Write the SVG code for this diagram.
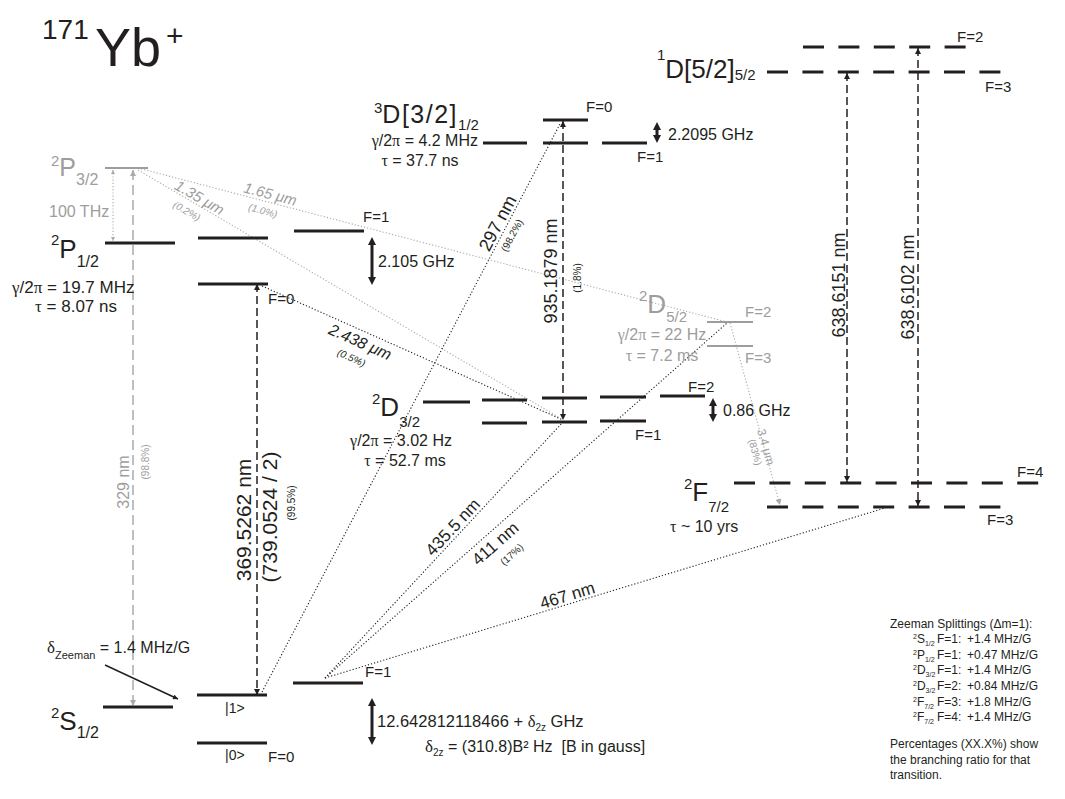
<svg xmlns="http://www.w3.org/2000/svg" width="1065" height="799" viewBox="0 0 1065 799">
<defs>
<style>
text{font-family:"Liberation Sans",Arial,sans-serif;fill:#231f20}
.g{fill:#9d9d9d}
.s{font-family:"Liberation Serif","Times New Roman",serif}
.lv{stroke:#231f20;stroke-width:3;fill:none}
.lvg{stroke:#9d9d9d;stroke-width:2;fill:none}
.da{stroke:#231f20;stroke-width:1.5;stroke-dasharray:8 4;fill:none}
.dt{stroke:#231f20;stroke-width:1.1;stroke-dasharray:1.2 2;fill:none}
.dtg{stroke:#aaaaaa;stroke-width:1.1;stroke-dasharray:1.2 2;fill:none}
.dag{stroke:#aaaaaa;stroke-width:1.5;stroke-dasharray:10 5;fill:none}
.sp{stroke:#231f20;stroke-width:3;fill:none}
.dsh{stroke:#231f20;stroke-width:3;stroke-dasharray:21 14.4;fill:none}
.it{font-style:italic}
</style>
<marker id="ah" viewBox="0 0 10 10" refX="10" refY="5" markerWidth="9" markerHeight="6" markerUnits="userSpaceOnUse" orient="auto-start-reverse"><path d="M0,0L10,5L0,10z" fill="#231f20"/></marker>
<marker id="ahg" viewBox="0 0 10 10" refX="10" refY="5" markerWidth="9" markerHeight="6" markerUnits="userSpaceOnUse" orient="auto-start-reverse"><path d="M0,0L10,5L0,10z" fill="#aaaaaa"/></marker>
<marker id="ahs" viewBox="0 0 10 10" refX="10" refY="5" markerWidth="5" markerHeight="4" markerUnits="userSpaceOnUse" orient="auto-start-reverse"><path d="M0,0L10,5L0,10z" fill="#aaaaaa"/></marker>
<marker id="hb" viewBox="0 0 10 10" refX="2" refY="5" markerWidth="8" markerHeight="10" markerUnits="userSpaceOnUse" orient="auto-start-reverse"><path d="M0,0L10,5L0,10z" fill="#231f20"/></marker>
<marker id="dotm" viewBox="0 0 10 10" refX="10" refY="5" markerWidth="6" markerHeight="5" markerUnits="userSpaceOnUse" orient="auto"><path d="M0,0L10,5L0,10z" fill="#231f20"/></marker>
</defs>
<rect width="1065" height="799" fill="#ffffff"/>

<g id="connectors">
  <line class="dtg" x1="113" y1="170" x2="113" y2="241" marker-start="url(#ahs)" marker-end="url(#ahs)"/>
  <line class="dag" x1="133" y1="170" x2="133" y2="706" marker-start="url(#ahg)" marker-end="url(#ahg)"/>
  <line class="dtg" x1="138" y1="170" x2="560" y2="418"/>
  <line class="dtg" x1="138" y1="168" x2="727" y2="322"/>
  <line class="dtg" x1="730" y1="323" x2="780" y2="505" marker-end="url(#ahg)"/>
  <line class="da" x1="257" y1="284" x2="257" y2="695" marker-start="url(#ah)" marker-end="url(#ah)"/>
  <line class="dt" x1="262" y1="692" x2="560" y2="124"/>
  <line class="da" x1="563" y1="121" x2="563" y2="420" marker-start="url(#ah)" marker-end="url(#ah)"/>
  <line class="dt" x1="262" y1="286" x2="563" y2="420"/>
  <line class="dt" x1="325" y1="678" x2="563" y2="422"/>
  <line class="dt" x1="325" y1="678" x2="727" y2="323"/>
  <line class="dt" x1="325" y1="678" x2="885" y2="508"/>
  <line class="da" x1="847" y1="73" x2="847" y2="482" marker-start="url(#ah)" marker-end="url(#ah)"/>
  <line class="da" x1="918" y1="48" x2="918" y2="506" marker-start="url(#ah)" marker-end="url(#ah)"/>
  <line x1="105" y1="665" x2="178" y2="699" stroke="#231f20" stroke-width="1.5" marker-end="url(#dotm)"/>
  <line class="sp" x1="372" y1="243.4" x2="372" y2="278.6" marker-start="url(#hb)" marker-end="url(#hb)"/>
  <line class="sp" x1="657" y1="128.4" x2="657" y2="136.6" marker-start="url(#hb)" marker-end="url(#hb)"/>
  <line class="sp" x1="713" y1="404.4" x2="713" y2="415.6" marker-start="url(#hb)" marker-end="url(#hb)"/>
  <line class="sp" x1="372" y1="704.4" x2="372" y2="738.6" marker-start="url(#hb)" marker-end="url(#hb)"/>
</g>

<g id="title">
  <text><tspan x="42" y="39" font-size="28">171</tspan><tspan x="95" y="66" font-size="54">Yb</tspan><tspan x="166" y="46" font-size="30">+</tspan></text>
</g>

<g id="P32">
  <line class="lvg" x1="105" y1="168" x2="148" y2="168"/>
  <text class="g" x="51" y="176" font-size="25"><tspan font-size="15" dy="-10">2</tspan><tspan dy="10">P</tspan><tspan font-size="16" dy="9">3/2</tspan></text>
  <text class="g" x="49" y="217" font-size="16">100 THz</text>
</g>

<g id="P12">
  <line class="lv" x1="105" y1="243" x2="175" y2="243"/>
  <line class="lv" x1="198" y1="238" x2="268" y2="238"/>
  <line class="lv" x1="294" y1="231" x2="364" y2="231"/>
  <line class="lv" x1="198" y1="284" x2="268" y2="284"/>
  <text x="51" y="258" font-size="26"><tspan font-size="15" dy="-13">2</tspan><tspan dy="13">P</tspan><tspan font-size="16" dy="9">1/2</tspan></text>
  <text x="12" y="293" font-size="17"><tspan class="s">γ</tspan>/2<tspan class="s">π</tspan> = 19.7 MHz</text>
  <text x="35" y="312" font-size="17"><tspan class="s">τ</tspan> = 8.07 ns</text>
  <text x="363" y="222" font-size="15">F=1</text>
  <text x="378" y="267" font-size="16">2.105 GHz</text>
  <text x="268" y="304" font-size="15">F=0</text>
</g>

<g id="D3-12">
  <line class="lv" x1="483" y1="143" x2="527" y2="143"/>
  <line class="lv" x1="543" y1="143" x2="588" y2="143"/>
  <line class="lv" x1="602" y1="143" x2="647" y2="143"/>
  <line class="lv" x1="543" y1="120" x2="588" y2="120"/>
  <text x="374" y="123" font-size="25"><tspan font-size="15" dy="-10">3</tspan><tspan dy="10" letter-spacing="1.5">D[3/2]</tspan><tspan font-size="15" dy="7">1/2</tspan></text>
  <text x="478" y="146" font-size="16" text-anchor="end"><tspan class="s">γ</tspan>/2<tspan class="s">π</tspan> = 4.2 MHz</text>
  <text x="420" y="166" font-size="16" text-anchor="middle"><tspan class="s">τ</tspan> = 37.7 ns</text>
  <text x="586" y="112" font-size="15">F=0</text>
  <text x="637" y="162" font-size="15">F=1</text>
  <text x="668" y="140" font-size="16">2.2095 GHz</text>
</g>

<g id="D1-52">
  <line class="dsh" x1="803" y1="47" x2="968" y2="47"/>
  <line class="dsh" x1="767" y1="72" x2="1003" y2="72"/>
  <text x="657" y="78" font-size="26"><tspan font-size="15" dy="-18">1</tspan><tspan dy="18">D[5/2]</tspan><tspan font-size="15" dy="2">5/2</tspan></text>
  <text x="957" y="42" font-size="15">F=2</text>
  <text x="985" y="92" font-size="15">F=3</text>
</g>

<g id="D52">
  <line class="lvg" x1="707" y1="322" x2="753" y2="322"/>
  <line class="lvg" x1="707" y1="346" x2="753" y2="346"/>
  <text class="g" x="639" y="313" font-size="26"><tspan font-size="15" dy="-12">2</tspan><tspan dy="12">D</tspan><tspan font-size="15" dy="9">5/2</tspan></text>
  <text class="g" x="662" y="340" font-size="16" text-anchor="middle"><tspan class="s">γ</tspan>/2<tspan class="s">π</tspan> = 22 Hz</text>
  <text class="g" x="662" y="361" font-size="16" text-anchor="middle"><tspan class="s">τ</tspan> = 7.2 ms</text>
  <text class="g" x="745" y="317" font-size="15">F=2</text>
  <text class="g" x="745" y="363" font-size="15">F=3</text>
</g>

<g id="D32">
  <line class="lv" x1="423" y1="402" x2="470" y2="402"/>
  <line class="lv" x1="482" y1="400" x2="527" y2="400"/>
  <line class="lv" x1="542" y1="398" x2="587" y2="398"/>
  <line class="lv" x1="600" y1="397" x2="646" y2="397"/>
  <line class="lv" x1="660" y1="396" x2="705" y2="396"/>
  <line class="lv" x1="482" y1="423" x2="527" y2="423"/>
  <line class="lv" x1="542" y1="422" x2="587" y2="422"/>
  <line class="lv" x1="600" y1="421" x2="646" y2="421"/>
  <text x="372" y="416" font-size="26"><tspan font-size="15" dy="-12">2</tspan><tspan dy="12">D</tspan><tspan font-size="15" dy="11">3/2</tspan></text>
  <text x="401" y="446" font-size="16" text-anchor="middle"><tspan class="s">γ</tspan>/2<tspan class="s">π</tspan> = 3.02 Hz</text>
  <text x="405" y="466" font-size="16" text-anchor="middle"><tspan class="s">τ</tspan> = 52.7 ms</text>
  <text x="688" y="392" font-size="15">F=2</text>
  <text x="635" y="440" font-size="15">F=1</text>
  <text x="723" y="416" font-size="16">0.86 GHz</text>
</g>

<g id="F72">
  <line class="dsh" x1="734" y1="483" x2="1040" y2="483"/>
  <line class="dsh" x1="767" y1="507" x2="1003" y2="507"/>
  <text x="684" y="501" font-size="26"><tspan font-size="15" dy="-12">2</tspan><tspan dy="12">F</tspan><tspan font-size="15" dy="11">7/2</tspan></text>
  <text x="670" y="532" font-size="16"><tspan class="s">τ</tspan> ~ 10 yrs</text>
  <text x="1017" y="477" font-size="15">F=4</text>
  <text x="987" y="525" font-size="15">F=3</text>
</g>

<g id="S12">
  <line class="lv" x1="103" y1="707" x2="173" y2="707"/>
  <line class="lv" x1="197" y1="695" x2="267" y2="695"/>
  <line class="lv" x1="293" y1="683" x2="363" y2="683"/>
  <line class="lv" x1="197" y1="743" x2="267" y2="743"/>
  <text x="51" y="730" font-size="26"><tspan font-size="15" dy="-12">2</tspan><tspan dy="12">S</tspan><tspan font-size="16" dy="8">1/2</tspan></text>
  <text x="47" y="653" font-size="16"><tspan class="s" font-size="17">δ</tspan><tspan font-size="11" dy="6">Zeeman</tspan><tspan dy="-6"> = 1.4 MHz/G</tspan></text>
  <text x="225" y="713" font-size="14">|1&gt;</text>
  <text x="225" y="760" font-size="14">|0&gt;</text>
  <text x="268" y="762" font-size="15">F=0</text>
  <text x="365" y="677" font-size="15">F=1</text>
  <text x="377" y="727" font-size="16.5">12.642812118466 + <tspan class="s">δ</tspan><tspan font-size="10" dy="4">2z</tspan><tspan dy="-4"> GHz</tspan></text>
  <text x="425" y="752" font-size="16"><tspan class="s" font-size="17">δ</tspan><tspan font-size="10" dy="4">2z</tspan><tspan dy="-4"> = (310.8)B² Hz</tspan><tspan dx="9">[B in gauss]</tspan></text>
</g>

<g id="transition-labels">
  <text transform="translate(251,520) rotate(-90)" font-size="21" text-anchor="middle">369.5262 nm</text>
  <text transform="translate(277,517) rotate(-90)" font-size="21" text-anchor="middle">(739.0524 / 2)</text>
  <text transform="translate(295,503) rotate(-90)" font-size="10" text-anchor="middle">(99.5%)</text>
  <text transform="translate(557,271) rotate(-90)" font-size="18" text-anchor="middle">935.1879 nm</text>
  <text transform="translate(581,278) rotate(-90)" font-size="10" text-anchor="middle">(1.8%)</text>
  <text transform="translate(845,285) rotate(-90)" font-size="18" text-anchor="middle">638.6151 nm</text>
  <text transform="translate(914,287) rotate(-90)" font-size="18" text-anchor="middle">638.6102 nm</text>
  <text class="g" transform="translate(129,482) rotate(-90)" font-size="16" text-anchor="middle">329 nm</text>
  <text class="g" transform="translate(149,462) rotate(-90)" font-size="10" text-anchor="middle">(98.8%)</text>
  <text transform="translate(503,226) rotate(-62)" font-size="18" text-anchor="middle">297 nm</text>
  <text transform="translate(515,237) rotate(-62)" font-size="10" text-anchor="middle">(98.2%)</text>
  <text transform="translate(457,531) rotate(-47)" font-size="17" text-anchor="middle">435.5 nm</text>
  <text transform="translate(499,548) rotate(-41.5)" font-size="17" text-anchor="middle">411 nm</text>
  <text transform="translate(514,557) rotate(-41.5)" font-size="10" text-anchor="middle">(17%)</text>
  <text transform="translate(569,601) rotate(-17)" font-size="17" text-anchor="middle">467 nm</text>
  <text class="it" transform="translate(358,347) rotate(24)" font-size="16" text-anchor="middle">2.438 μm</text>
  <text class="it" transform="translate(350,361) rotate(24)" font-size="10" text-anchor="middle">(0.5%)</text>
  <text class="g it" transform="translate(197,202) rotate(30)" font-size="15" text-anchor="middle">1.35 μm</text>
  <text class="g it" transform="translate(185,214) rotate(30)" font-size="10" text-anchor="middle">(0.2%)</text>
  <text class="g it" transform="translate(269,199) rotate(14.7)" font-size="15" text-anchor="middle">1.65 μm</text>
  <text class="g it" transform="translate(262,214) rotate(14.7)" font-size="10" text-anchor="middle">(1.0%)</text>
  <text class="g" transform="translate(762,448) rotate(74.6)" font-size="12" text-anchor="middle">3.4 μm</text>
  <text class="g" transform="translate(752,453) rotate(74.6)" font-size="10" text-anchor="middle">(83%)</text>
</g>

<g id="zeeman-note">
  <text x="890" y="628" font-size="12">Zeeman Splittings (Δm=1):</text>
  <text x="913" y="643" font-size="12"><tspan font-size="7" dy="-4">2</tspan><tspan dy="4">S</tspan><tspan font-size="7" dy="3">1/2</tspan></text>
  <text x="937" y="643" font-size="12">F=1:</text><text x="967" y="643" font-size="12">+1.4 MHz/G</text>
  <text x="913" y="659" font-size="12"><tspan font-size="7" dy="-4">2</tspan><tspan dy="4">P</tspan><tspan font-size="7" dy="3">1/2</tspan></text>
  <text x="937" y="659" font-size="12">F=1:</text><text x="967" y="659" font-size="12">+0.47 MHz/G</text>
  <text x="913" y="674" font-size="12"><tspan font-size="7" dy="-4">2</tspan><tspan dy="4">D</tspan><tspan font-size="7" dy="3">3/2</tspan></text>
  <text x="937" y="674" font-size="12">F=1:</text><text x="967" y="674" font-size="12">+1.4 MHz/G</text>
  <text x="913" y="690" font-size="12"><tspan font-size="7" dy="-4">2</tspan><tspan dy="4">D</tspan><tspan font-size="7" dy="3">3/2</tspan></text>
  <text x="937" y="690" font-size="12">F=2:</text><text x="967" y="690" font-size="12">+0.84 MHz/G</text>
  <text x="913" y="706" font-size="12"><tspan font-size="7" dy="-4">2</tspan><tspan dy="4">F</tspan><tspan font-size="7" dy="3">7/2</tspan></text>
  <text x="937" y="706" font-size="12">F=3:</text><text x="967" y="706" font-size="12">+1.8 MHz/G</text>
  <text x="913" y="721" font-size="12"><tspan font-size="7" dy="-4">2</tspan><tspan dy="4">F</tspan><tspan font-size="7" dy="3">7/2</tspan></text>
  <text x="937" y="721" font-size="12">F=4:</text><text x="967" y="721" font-size="12">+1.4 MHz/G</text>
  <text x="890" y="748" font-size="12">Percentages (XX.X%) show</text>
  <text x="890" y="764" font-size="12">the branching ratio for that</text>
  <text x="890" y="779" font-size="12">transition.</text>
</g>
</svg>
